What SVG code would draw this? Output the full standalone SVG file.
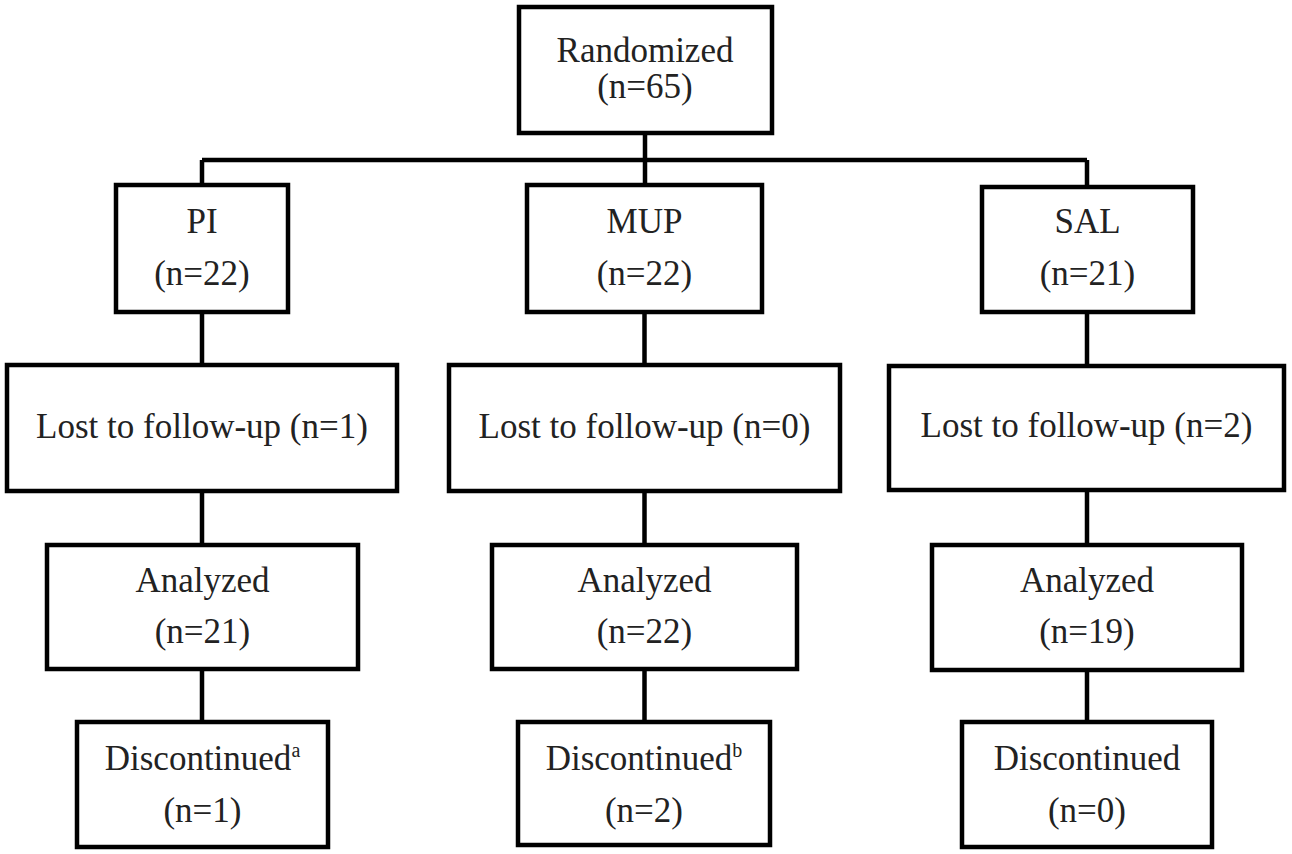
<svg xmlns="http://www.w3.org/2000/svg" width="1292" height="854" viewBox="0 0 1292 854">
<style>
.box{fill:#fff;stroke:#000;stroke-width:4.5}
.ln{fill:none;stroke:#000;stroke-width:4.5}
text{font-family:"Liberation Serif","Times New Roman",serif;font-size:35px;fill:#222;text-anchor:middle}
.sup{font-size:20px}
</style>
<rect width="1292" height="854" fill="#fff"/>
<g id="connectors">
<path class="ln" d="M645,133 V160 M202,160 H1087 M202,160 V185 M645,160 V185 M1087,160 V187"/>
<path class="ln" d="M202,312 V365 M202,491 V545 M202,669 V722"/>
<path class="ln" d="M644.5,312 V365 M644.5,491 V545 M644.5,669 V722"/>
<path class="ln" d="M1087,312 V366 M1087,490 V545 M1087,670 V722"/>
</g>
<g id="randomized"><rect class="box" x="519" y="7" width="253" height="126"/><text x="645" y="62">Randomized</text><text x="645" y="98">(n=65)</text></g>
<g id="pi"><rect class="box" x="116" y="185" width="172" height="127"/><text x="202" y="233">PI</text><text x="202" y="285">(n=22)</text></g>
<g id="mup"><rect class="box" x="527" y="185" width="235" height="127"/><text x="644.5" y="233">MUP</text><text x="644.5" y="285">(n=22)</text></g>
<g id="sal"><rect class="box" x="982" y="187" width="211" height="125"/><text x="1087.5" y="233">SAL</text><text x="1087.5" y="285">(n=21)</text></g>
<g id="lost-pi"><rect class="box" x="7" y="365" width="390" height="126"/><text x="202" y="438">Lost to follow-up (n=1)</text></g>
<g id="lost-mup"><rect class="box" x="449" y="365" width="391" height="126"/><text x="644.5" y="438">Lost to follow-up (n=0)</text></g>
<g id="lost-sal"><rect class="box" x="889" y="366" width="395" height="124"/><text x="1086.5" y="437">Lost to follow-up (n=2)</text></g>
<g id="analyzed-pi"><rect class="box" x="47" y="545" width="311" height="124"/><text x="202.5" y="592">Analyzed</text><text x="202.5" y="643">(n=21)</text></g>
<g id="analyzed-mup"><rect class="box" x="492" y="545" width="305" height="124"/><text x="644.5" y="592">Analyzed</text><text x="644.5" y="643">(n=22)</text></g>
<g id="analyzed-sal"><rect class="box" x="932" y="545" width="310" height="125"/><text x="1087" y="592">Analyzed</text><text x="1087" y="643">(n=19)</text></g>
<g id="disc-pi"><rect class="box" x="77" y="722" width="251" height="125"/><text x="202.5" y="770">Discontinued<tspan class="sup" dy="-13">a</tspan></text><text x="202.5" y="822">(n=1)</text></g>
<g id="disc-mup"><rect class="box" x="518" y="722" width="252" height="123"/><text x="644" y="770">Discontinued<tspan class="sup" dy="-13">b</tspan></text><text x="644" y="822">(n=2)</text></g>
<g id="disc-sal"><rect class="box" x="962" y="722" width="250" height="125"/><text x="1087" y="770">Discontinued</text><text x="1087" y="822">(n=0)</text></g>
</svg>
